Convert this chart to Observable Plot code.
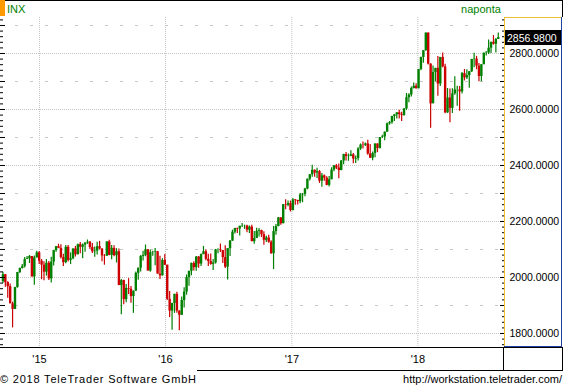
<!DOCTYPE html>
<html><head><meta charset="utf-8">
<script src="https://cdn.jsdelivr.net/npm/d3@7"></script>
<script src="https://cdn.jsdelivr.net/npm/@observablehq/plot@0.6"></script>
<style>
html,body{margin:0;padding:0;background:#fff;}
svg{display:block;}
</style></head><body><div id="chart"></div>
<script>
// ---- texts ----
const symbol = "INX";
const periodLabel = "naponta";
const lastValue = 2856.98;
const footerLeft = "© 2018 TeleTrader Software GmbH";
const footerRight = "http://workstation.teletrader.com/";
const yearStarts = ["2015-01-01", "2016-01-01", "2017-01-01", "2018-01-01"];
const yearLabels = ["'15", "'16", "'17", "'18"];
const priceLabels = [1800, 2000, 2200, 2400, 2600, 2800];
const halfGrid = [1900, 2100, 2300, 2500, 2700, 2900];

// ---- weekly candles (one value per week, first week centred on 2014-09-17) ----
const firstWeek = "2014-09-17";
const firstOpen = 1985;
const close2014 = [2010,1982, 1967,1906,1886,1964,2018, 2032,2039,2064,2067, 2075,2002,2070,2088];
const high2014  = [2019,2011, 1985,1977,1912,1965,2018, 2034,2046,2071,2075, 2079,2075,2077,2094];
const low2014   = [1979,1965, 1926,1906,1820,1886,1962, 2014,2030,2034,2064, 2050,2002,1972,2070];

const close2015 = [2058,2044,2019,2051,1995, 2055,2096,2110,2104, 2071,2053,2108,2061, 2067,2102,2081,2117,
  2108,2116,2123,2126,2107, 2092,2094,2110,2102, 2077,2076,2127,2079,2104, 2078,2092,1971,1989,
  1921,1961,1958,1932, 1951,2015,2033,2075,2079, 2099,2023,2089,2090, 2092,2012,2006,2061];
const high2015 = [2093,2064,2056,2064,2057, 2072,2097,2111,2119, 2117,2083,2114,2114, 2088,2102,2111,2120,
  2125,2120,2124,2134,2129, 2121,2109,2126,2129, 2102,2082,2128,2133,2114, 2113,2103,2102,1993,
  1990,1975,1996,1968, 1952,2020,2034,2079,2094, 2116,2100,2097,2094, 2104,2093,2076,2067];
const low2015 = [2046,1992,1988,2005,1989, 1980,2041,2090,2103, 2066,2039,2049,2055, 2046,2063,2073,2081,
  2085,2067,2090,2118,2100, 2086,2072,2080,2098, 2056,2044,2076,2078,2063, 2074,2052,1971,1867,
  1903,1910,1939,1908, 1872,1951,1990,2020,2059, 2074,2023,2019,2076, 2042,2012,1993,2005];

const close2016 = [2044,1922,1880,1907,1940, 1880,1865,1918,1948, 2000,2022,2050,2035, 2073,2048,2082,2092,2065,
  2057,2047,2052,2099, 2099,2096,2071,2037, 2103,2130,2162,2175,2173, 2183,2184,2184,2169,
  2180,2128,2139,2165,2168, 2153,2133,2141,2126, 2085,2164,2182,2213, 2192,2260,2258,2264,2239];
const high2016 = [2082,2044,1950,1908,1940, 1947,1881,1930,1963, 2009,2022,2052,2056, 2075,2075,2084,2111,2099,
  2083,2084,2064,2100, 2103,2120,2096,2113, 2103,2132,2169,2176,2177, 2183,2193,2187,2187,
  2184,2187,2164,2176,2175, 2169,2163,2147,2151, 2131,2182,2189,2214, 2213,2261,2278,2273,2273];
const low2016 = [2043,1918,1857,1812,1872, 1872,1810,1865,1891, 1937,1969,2006,2023, 2022,2033,2039,2081,2060,
  2039,2044,2025,2048, 2085,2089,2050,2032, 1991,2075,2129,2155,2157, 2148,2179,2172,2160,
  2157,2128,2119,2139,2145, 2143,2115,2125,2122, 2083,2028,2151,2181, 2187,2192,2242,2253,2234];

const close2017 = [2277,2275,2271,2295, 2297,2316,2351,2367, 2383,2373,2378,2344,2363, 2355,2329,2349,2384,
  2399,2391,2382,2416, 2439,2432,2433,2438,2423, 2425,2459,2473,2472, 2477,2441,2426,2443,
  2477,2461,2500,2502,2519, 2549,2553,2575,2581, 2588,2582,2579,2602, 2642,2652,2675,2683,2674];
const high2017 = [2282,2279,2276,2300, 2300,2319,2352,2368, 2401,2384,2390,2382,2371, 2366,2360,2361,2392,
  2399,2404,2405,2418, 2440,2446,2441,2453,2443, 2434,2463,2477,2484, 2480,2490,2475,2448,
  2477,2477,2500,2508,2520, 2552,2557,2576,2582, 2588,2597,2590,2604, 2657,2656,2680,2695,2692];
const low2017 = [2238,2258,2259,2263, 2267,2288,2313,2345, 2358,2358,2354,2336,2322, 2344,2328,2323,2349,
  2378,2386,2353,2381, 2403,2416,2415,2431,2406, 2407,2416,2454,2459, 2468,2437,2425,2417,
  2428,2446,2459,2496,2488, 2519,2544,2547,2557, 2566,2566,2557,2576, 2597,2624,2645,2673,2673];

const close2018 = [2743,2786,2810,2873, 2762,2620,2732,2747, 2691,2786,2752,2588,2641, 2604,2656,2670,2670,
  2663,2728,2713,2721, 2735,2779,2780,2755,2718, 2760,2801,2802,2819, 2840,2833,2850,2856.98];
const high2018 = [2743,2787,2810,2873, 2873,2763,2755,2747, 2789,2786,2802,2762,2675, 2673,2674,2717,2683,
  2682,2732,2743,2742, 2736,2779,2801,2790,2764, 2760,2802,2807,2848, 2840,2864,2854,2873];
const low2018 = [2674,2738,2765,2808, 2759,2533,2631,2699, 2647,2682,2749,2585,2586, 2553,2586,2651,2612,
  2594,2655,2702,2707, 2676,2732,2749,2742,2699, 2699,2760,2791,2796, 2800,2830,2802,2850];

const closes = [...close2014, ...close2015, ...close2016, ...close2017, ...close2018];
const highs = [...high2014, ...high2015, ...high2016, ...high2017, ...high2018];
const lows = [...low2014, ...low2015, ...low2016, ...low2017, ...low2018];

const start = new Date(firstWeek);
const candles = closes.map((c, i) => ({
  date: d3.utcDay.offset(start, 7 * i),
  open: i === 0 ? firstOpen : closes[i - 1],
  close: c,
  high: highs[i],
  low: lows[i]
}));
candles.forEach(d => d.dir = d.close >= d.open ? "up" : "down");

const years = yearStarts.map(s => new Date(s));
const minorTicks = d3.range(1760, 2921, 20);
const majorTicks = d3.range(1800, 2901, 100);

const W = 563, H = 385;
const chart = Plot.plot({
  width: W, height: H,
  marginLeft: 0, marginRight: 59, marginTop: 17, marginBottom: 38,
  style: {fontFamily: "'Liberation Sans', Arial, sans-serif", fontSize: "11px", background: "#fff", color: "#000"},
  x: {type: "utc", domain: [new Date("2014-09-10"), new Date("2018-09-09")]},
  y: {domain: [1750, 2928.57]},
  color: {domain: ["up", "down"], range: ["#008000", "#cc0000"]},
  marks: [
    Plot.ruleY(halfGrid, {y: d => d, stroke: "#c8c8c8", strokeDasharray: "3,12"}),
    Plot.ruleY(priceLabels, {y: d => d, stroke: "#c4c4c4", strokeDasharray: "1,1"}),
    Plot.ruleX(years, {x: d => d, stroke: "#c4c4c4", strokeDasharray: "1,1"}),
    Plot.ruleX(candles, {x: "date", y1: "low", y2: "high", stroke: "dir", strokeWidth: 1.2}),
    Plot.ruleX(candles, {x: "date", y1: "open", y2: "close", stroke: "dir", strokeWidth: 2.4}),
    Plot.tickY(minorTicks, {y: d => d, insetRight: 501, stroke: "#000"}),
    Plot.tickY(majorTicks, {y: d => d, insetRight: 499, stroke: "#000"}),
    Plot.tickY(minorTicks, {y: d => d, insetLeft: 502, stroke: "#000"}),
    Plot.tickY(majorTicks, {y: d => d, insetLeft: 500, stroke: "#000"}),
    Plot.axisY({anchor: "right", ticks: priceLabels, tickFormat: d3.format(".4f"), tickSize: 0, tickPadding: 5, fontSize: 10.5, label: null}),
    Plot.axisX({ticks: years, tickFormat: d => yearLabels[years.findIndex(t => +t === +d)], tickSize: 0, tickPadding: 8, label: null})
  ]
});
document.getElementById("chart").appendChild(chart);

const y = v => chart.scale("y").apply(v);
const svg = d3.select(chart);
const g = svg.append("g")
  .attr("font-family", "'Liberation Sans', Arial, sans-serif")
  .attr("font-size", 11)
  .attr("text-anchor", "start");
const line = (x1, y1, x2, y2, c) => g.append("line").attr("x1", x1).attr("y1", y1).attr("x2", x2).attr("y2", y2).attr("stroke", c).attr("stroke-width", 1);

line(0, 0.5, W, 0.5, "#000");
g.append("rect").attr("x", 0).attr("y", 0).attr("width", 5).attr("height", 16).attr("fill", "#ff9900");
g.append("text").attr("x", 7).attr("y", 13).attr("text-anchor", "start").attr("fill", "#008000").text(symbol);
g.append("text").attr("x", 481).attr("y", 13).attr("text-anchor", "middle").attr("fill", "#008000").text(periodLabel);
line(562.5, 0, 562.5, 17, "#000");
line(504.5, 17, 504.5, 347, "#f0c030");
line(504, 17.5, 562, 17.5, "#f0c030");
line(561.5, 17, 561.5, 347, "#2040a0");
line(504, 346.5, 562, 346.5, "#2040a0");
line(0, 347.5, W, 347.5, "#000");
g.append("rect").attr("x", 503.5).attr("y", 347.5).attr("width", 59).attr("height", 23).attr("fill", "none").attr("stroke", "#000");
line(197, 370.5, 503.5, 370.5, "#000");
g.append("text").attr("x", 0).attr("y", 383).attr("text-anchor", "start").attr("textLength", 196).attr("lengthAdjust", "spacing").text(footerLeft);
g.append("text").attr("x", 562).attr("y", 383).attr("text-anchor", "end").text(footerRight);

const yl = Math.round(y(lastValue));
g.append("rect").attr("x", 505).attr("y", yl - 7).attr("width", 56).attr("height", 15).attr("fill", "#000");
g.append("text").attr("x", 507).attr("y", yl + 4.5).attr("text-anchor", "start").attr("fill", "#fff").attr("font-size", 10.5).text(d3.format(".4f")(lastValue));
</script>
</body></html>
